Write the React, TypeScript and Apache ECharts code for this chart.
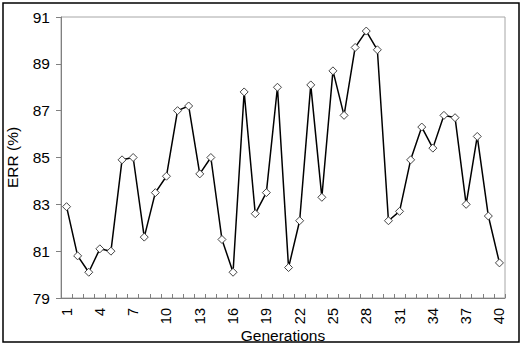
import React, { useEffect, useRef } from "react";
import * as echarts from "echarts";

const generations: string[] = Array.from({ length: 40 }, (_, i) => String(i + 1));
const errValues: number[] = [
  82.9, 80.8, 80.1, 81.1, 81.0, 84.9, 85.0, 81.6, 83.5, 84.2,
  87.0, 87.2, 84.3, 85.0, 81.5, 80.1, 87.8, 82.6, 83.5, 88.0,
  80.3, 82.3, 88.1, 83.3, 88.7, 86.8, 89.7, 90.4, 89.6, 82.3,
  82.7, 84.9, 86.3, 85.4, 86.8, 86.7, 83.0, 85.9, 82.5, 80.5,
];
const yMin = 79;
const yMax = 91;
const yStep = 2;

export default function App() {
  const ref = useRef<HTMLDivElement>(null);
  useEffect(() => {
    if (!ref.current) return;
    const chart = echarts.init(ref.current, null, { renderer: "svg" });
    const font = "Liberation Sans, Arial, sans-serif";
    chart.setOption({
      animation: false,
      backgroundColor: "#ffffff",
      textStyle: { fontFamily: font },
      grid: {
        left: 61,
        right: 19,
        top: 17,
        bottom: 49,
        containLabel: false,
        outerBoundsMode: "none",
        show: true,
        borderColor: "#a6a6a6",
        borderWidth: 1,
        backgroundColor: "transparent",
      },
      xAxis: {
        type: "category",
        data: generations,
        boundaryGap: true,
        name: "Generations",
        nameLocation: "middle",
        nameGap: 29,
        nameMoveOverlap: false,
        nameTextStyle: { fontSize: 15.5, color: "#000", fontFamily: font },
        axisLine: { lineStyle: { color: "#808080", width: 1 } },
        axisTick: { show: true, inside: true, length: 4, interval: 0, alignWithLabel: false, lineStyle: { color: "#808080" } },
        axisLabel: { interval: 2, rotate: 90, fontSize: 14.5, color: "#000", margin: 10, fontFamily: font },
        splitLine: { show: false },
      },
      yAxis: {
        type: "value",
        min: yMin,
        max: yMax,
        interval: yStep,
        name: "ERR (%)",
        nameLocation: "middle",
        nameGap: 41,
        nameMoveOverlap: false,
        nameTextStyle: { fontSize: 15.5, color: "#000", fontFamily: font },
        axisLine: { show: true, lineStyle: { color: "#808080", width: 1 } },
        axisTick: { show: true, inside: false, length: 5, lineStyle: { color: "#808080" } },
        axisLabel: { fontSize: 15.5, color: "#000", margin: 11, fontFamily: font },
        splitLine: { show: false },
      },
      series: [
        {
          type: "line",
          data: errValues,
          symbol: "diamond",
          symbolSize: 8,
          showSymbol: true,
          showAllSymbol: true,
          lineStyle: { color: "#000", width: 1.5 },
          itemStyle: { color: "#ffffff", borderColor: "#444444", borderWidth: 1 },
        },
      ],
      graphic: [
        {
          type: "rect",
          shape: { x: 3, y: 3, width: 516, height: 339 },
          style: { fill: "none", stroke: "#000", lineWidth: 1.5 },
          silent: true,
        },
      ],
    });
    return () => chart.dispose();
  }, []);
  return (
    <div
      ref={ref}
      style={{ position: "absolute", left: 0, top: 0, width: 524, height: 347 }}
    />
  );
}
